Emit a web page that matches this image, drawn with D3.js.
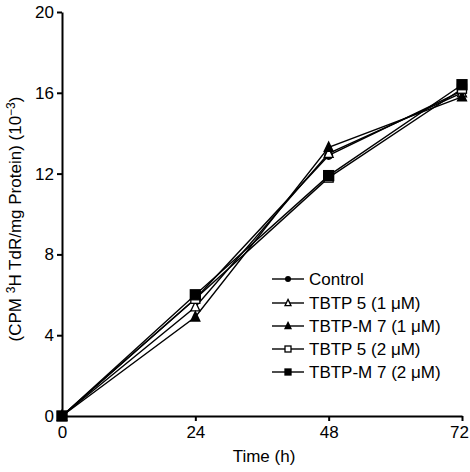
<!DOCTYPE html>
<html><head><meta charset="utf-8">
<script src="https://cdn.jsdelivr.net/npm/d3@7"></script>
<style>body{margin:0;background:#fff}svg{font-family:Arial,"Liberation Sans",Helvetica,sans-serif}</style>
</head><body><svg id="c" width="470" height="472"></svg>
<script>
const times = [0, 24, 48, 72];
const seriesNames = ["Control", "TBTP 5 (1 \u03bcM)", "TBTP-M 7 (1 \u03bcM)", "TBTP 5 (2 \u03bcM)", "TBTP-M 7 (2 \u03bcM)"];
const control = [0, 5.8, 12.9, 16.1];
const tbtp5_1 = [0, 5.4, 13.0, 16.0];
const tbtpm7_1 = [0, 4.9, 13.3, 15.8];
const tbtp5_2 = [0, 5.8, 11.8, 16.2];
const tbtpm7_2 = [0, 6.0, 11.9, 16.4];
const markers = ["circle", "triangleOpen", "triangle", "squareOpen", "square"];
const xTicks = [0, 24, 48, 72];
const yTicks = [0, 4, 8, 12, 16, 20];
const allSeries = [control, tbtp5_1, tbtpm7_1, tbtp5_2, tbtpm7_2];

const svg = d3.select("#c");
const x = d3.scaleLinear().domain([0, 72]).range([62, 462]);
const y = d3.scaleLinear().domain([0, 20]).range([416, 12]);

const xa = svg.append("g").attr("transform", "translate(0,416)")
  .call(d3.axisBottom(x).tickValues(xTicks).tickSize(5).tickPadding(5).tickSizeOuter(0));
const ya = svg.append("g").attr("transform", "translate(62,0)")
  .call(d3.axisLeft(y).tickValues(yTicks).tickSize(5).tickPadding(3).tickSizeOuter(0));
[xa, ya].forEach(a => {
  a.selectAll("path,line").attr("stroke", "#000").attr("stroke-width", 2);
  a.selectAll("text").attr("font-size", 17).attr("fill", "#000").attr("font-family", "Arial, 'Liberation Sans', sans-serif");
});
xa.selectAll(".tick text").filter(d => d === 72).attr("dx", -3);

svg.append("text").attr("x", 264).attr("y", 462).attr("text-anchor", "middle")
  .attr("font-size", 17).text("Time (h)");
const yl = svg.append("text").attr("transform", "translate(21,219) rotate(-90)")
  .attr("text-anchor", "middle").attr("font-size", 17);
yl.append("tspan").text("(CPM ");
yl.append("tspan").attr("font-size", 12).attr("dy", -6).text("3");
yl.append("tspan").attr("dy", 6).text("H TdR/mg Protein) (10");
yl.append("tspan").attr("font-size", 12).attr("dy", -6).text("\u22123");
yl.append("tspan").attr("dy", 6).text(")");

const line = d3.line().x((d, i) => x(times[i])).y(d => y(d));
allSeries.forEach(s => {
  svg.append("path").attr("d", line(s)).attr("fill", "none")
    .attr("stroke", "#000").attr("stroke-width", 1.4);
});

function marker(g, type, cx, cy, s) {
  const open = type.endsWith("Open");
  const fill = open ? "#fff" : "#000";
  if (type === "circle") {
    g.append("circle").attr("cx", cx).attr("cy", cy).attr("r", s * 0.5).attr("fill", "#000");
  } else if (type.startsWith("triangle")) {
    const h = s;
    g.append("path").attr("d", `M${cx},${cy - h * 0.6}L${cx + h * 0.5},${cy + h * 0.45}L${cx - h * 0.5},${cy + h * 0.45}Z`)
      .attr("fill", fill).attr("stroke", "#000").attr("stroke-width", 1.3);
  } else {
    g.append("rect").attr("x", cx - s / 2).attr("y", cy - s / 2).attr("width", s).attr("height", s)
      .attr("fill", fill).attr("stroke", "#000").attr("stroke-width", 1.3);
  }
}
const mg = svg.append("g");
allSeries.forEach((s, k) => {
  s.forEach((v, i) => marker(mg, markers[k], x(times[i]), y(v), k === 4 ? 10 : 9));
});

const legY = [279, 303, 326, 349, 372];
const lg = svg.append("g");
seriesNames.forEach((n, k) => {
  lg.append("line").attr("x1", 272).attr("x2", 304).attr("y1", legY[k]).attr("y2", legY[k])
    .attr("stroke", "#000").attr("stroke-width", 1.4);
  marker(lg, markers[k], 288, legY[k], 6);
  lg.append("text").attr("x", 309).attr("y", legY[k] + 6).attr("font-size", 17).text(n);
});
</script></body></html>
